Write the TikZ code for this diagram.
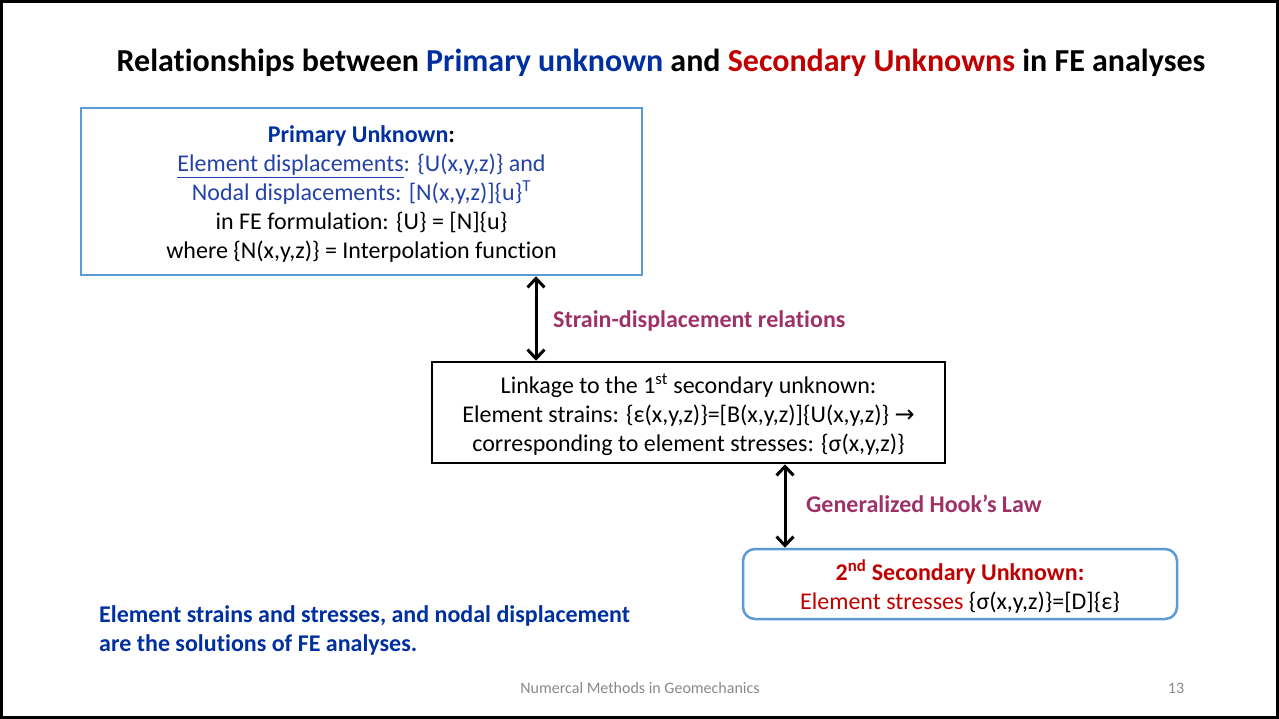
\documentclass[tikz,border=0pt]{standalone}
\usepackage{fontspec}
\setmainfont{Carlito}[Ligatures=NoCommon]
\newfontfamily\symfont{DejaVu Sans}
\usetikzlibrary{arrows.meta}
\definecolor{tblue}{RGB}{0,48,160}
\definecolor{lblue}{RGB}{36,66,170}
\definecolor{bordblue}{RGB}{91,155,213}
\definecolor{dred}{RGB}{192,0,0}
\definecolor{lpurple}{RGB}{158,50,104}
\definecolor{fgray}{RGB}{137,137,137}
\tikzset{
  body/.style={font=\fontsize{24}{29}\selectfont, align=center, inner sep=0pt},
  bluebox/.style={draw=bordblue, line width=2.5pt, inner sep=0pt},
  blackbox/.style={draw=black, line width=2.5pt, inner sep=0pt},
  dbl/.style={line width=3pt, {Straight Barb[length=9pt,width=17pt]}-{Straight Barb[length=9pt,width=17pt]}},
  lbl/.style={font=\fontsize{24}{28}\selectfont\bfseries, text=lpurple, anchor=west, inner sep=0pt},
}
\begin{document}
\begin{tikzpicture}[x=1pt,y=-1pt]
\useasboundingbox (0,0) rectangle (1279,719);
\draw[line width=2.5pt] (1.5,1.5) rectangle (1277.5,717.5);
% title
\node[font=\fontsize{32}{36}\selectfont\bfseries, inner sep=0pt] (title) at (661,63)
  {Relationships between \textcolor{tblue}{Primary unknown} and \textcolor{dred}{Secondary Unknowns} in FE analyses};
% box 1
\node[bluebox, minimum width=561pt, minimum height=167pt] (b1) at (361.5,191.5) {};
\node[body] (t1) at ([yshift=-3pt]b1.center)
  {\textcolor{tblue}{\bfseries Primary Unknown}\textbf{:}\\
   \textcolor{lblue}{\underline{Element displacements}: \{U(x,y,z)\} and}\\
   \textcolor{lblue}{Nodal displacements: [N(x,y,z)]\{u\}\textsuperscript{T}}\\
   in FE formulation: \{U\} = [N]\{u\}\\
   where \{N(x,y,z)\} = Interpolation function};
% box 2
\node[blackbox, minimum width=513pt, minimum height=101pt] (b2) at (688.5,412.5) {};
\node[body] (t2) at ([yshift=-2pt]b2.center)
  {Linkage to the 1\textsuperscript{st} secondary unknown:\\
   Element strains: \{ε(x,y,z)\}=[B(x,y,z)]\{U(x,y,z)\} {\symfont\fontsize{24}{29}\selectfont →}\\
   corresponding to element stresses: \{σ(x,y,z)\}};
% box 3
\node[bluebox, rounded corners=12pt, minimum width=434pt, minimum height=70pt] (b3) at (960,584) {};
\node[body] (t3) at ([yshift=-2.5pt]b3.center)
  {\textcolor{dred}{\bfseries 2\textsuperscript{nd} Secondary Unknown:}\\
   \textcolor{dred}{Element stresses} \{σ(x,y,z)\}=[D]\{ε\}};
% arrows
\coordinate (a1) at (536,0);
\coordinate (a2) at (785,0);
\draw[dbl] (b1.south -| a1) -- (b2.north -| a1);
\draw[dbl] (b2.south -| a2) -- (b3.north -| a2);
\node[lbl] (l1) at (553,321) {Strain-displacement relations};
\node[lbl] (l2) at (806,504) {Generalized Hook’s Law};
% bottom note
\node[font=\fontsize{24}{29}\selectfont\bfseries, text=tblue, align=left, anchor=west, inner sep=0pt] (note) at (99,630.5)
  {Element strains and stresses, and nodal displacement\\are the solutions of FE analyses.};
% footer
\node[font=\fontsize{16}{18}\selectfont, text=fgray, inner sep=0pt] (foot) at (640,688) {Numercal Methods in Geomechanics};
\node[font=\fontsize{16}{18}\selectfont, text=fgray, inner sep=0pt] (num) at (1176,688) {13};
\end{tikzpicture}
\end{document}
